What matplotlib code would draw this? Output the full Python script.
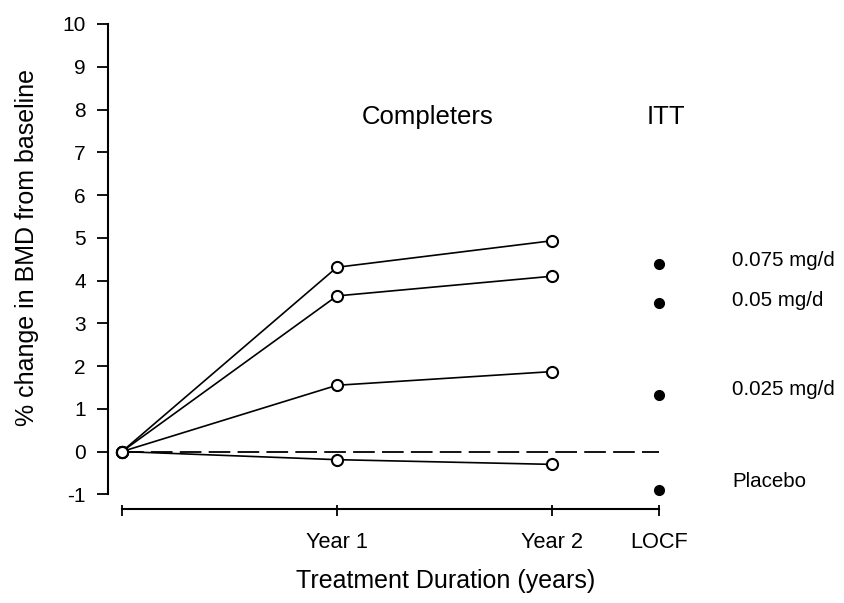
import matplotlib
matplotlib.use("Agg")

import matplotlib.pyplot as plt

# chart data
timepoints = [0, 1, 2]
tick_positions = [0, 1, 2, 2.5]
tick_labels = ["", "Year 1", "Year 2", "LOCF"]
doses = ["0.075 mg/d", "0.05 mg/d", "0.025 mg/d", "Placebo"]
completers = [
    [0, 4.31, 4.93],
    [0, 3.64, 4.10],
    [0, 1.55, 1.87],
    [0, -0.19, -0.30],
]
itt_x = 2.5
itt_locf = [4.38, 3.48, 1.33, -0.91]
dose_label_y = [4.46, 3.54, 1.44, -0.70]

plt.rcParams["font.family"] = ["Liberation Sans", "DejaVu Sans"]
plt.rcParams["axes.unicode_minus"] = False


def plot(fig_file):
    "draw the BMD change chart"
    fig = plt.figure(figsize=(8.45, 6.03), dpi=100)
    ax = fig.add_axes([0.1278, 0.1519, 0.678, 0.8154])

    # zero reference line
    ax.plot([0, itt_x], [0, 0], color="black", lw=1.3, dashes=(12, 4))

    # completers lines with open circles
    for vals in completers:
        ax.plot(timepoints, vals, color="black", lw=1.2, marker="o",
                markersize=8, markerfacecolor="white", markeredgewidth=1.5,
                clip_on=False, zorder=3)

    # ITT LOCF dots and dose labels
    for name, val, ly in zip(doses, itt_locf, dose_label_y):
        ax.plot([itt_x], [val], "o", color="black", markersize=7,
                clip_on=False, zorder=3)
        ax.text(2.84, ly, name, fontsize=14.8, ha="left", va="center")

    ax.text(1.42, 7.82, "Completers", fontsize=18.5, ha="center", va="center")
    ax.text(2.53, 7.82, "ITT", fontsize=18.5, ha="center", va="center")

    ax.set_xlim(-0.065, 2.6)
    ax.set_ylim(-1.4, 10.1)

    for side in ("top", "right"):
        ax.spines[side].set_visible(False)
    ax.spines["left"].set_bounds(-1, 10)
    ax.spines["left"].set_linewidth(1.5)
    ax.spines["bottom"].set_position(("data", -1.352))
    ax.spines["bottom"].set_bounds(0, 2.5)
    ax.spines["bottom"].set_linewidth(1.5)

    ax.set_yticks(range(-1, 11))
    ax.tick_params(axis="y", direction="out", length=8, width=1.3,
                   labelsize=15, pad=8)

    ax.set_xticks(tick_positions)
    ax.set_xticklabels(tick_labels)
    ax.set_xticks(tick_positions, minor=True)
    ax.xaxis.remove_overlapping_locs = False
    ax.tick_params(axis="x", which="major", direction="out", length=5,
                   width=1.3, labelsize=15.7, pad=11)
    ax.tick_params(axis="x", which="minor", direction="in", length=3,
                   width=1.3)

    fig.text(446 / 845, 1 - 581 / 603, "Treatment Duration (years)",
             fontsize=18, ha="center", va="center")
    fig.text(27 / 845, 1 - 247 / 603, "% change in BMD from baseline",
             fontsize=18, ha="center", va="center", rotation=90)

    fig.savefig(fig_file, dpi=100)


if __name__ == "__main__":
    plot("out.png")
